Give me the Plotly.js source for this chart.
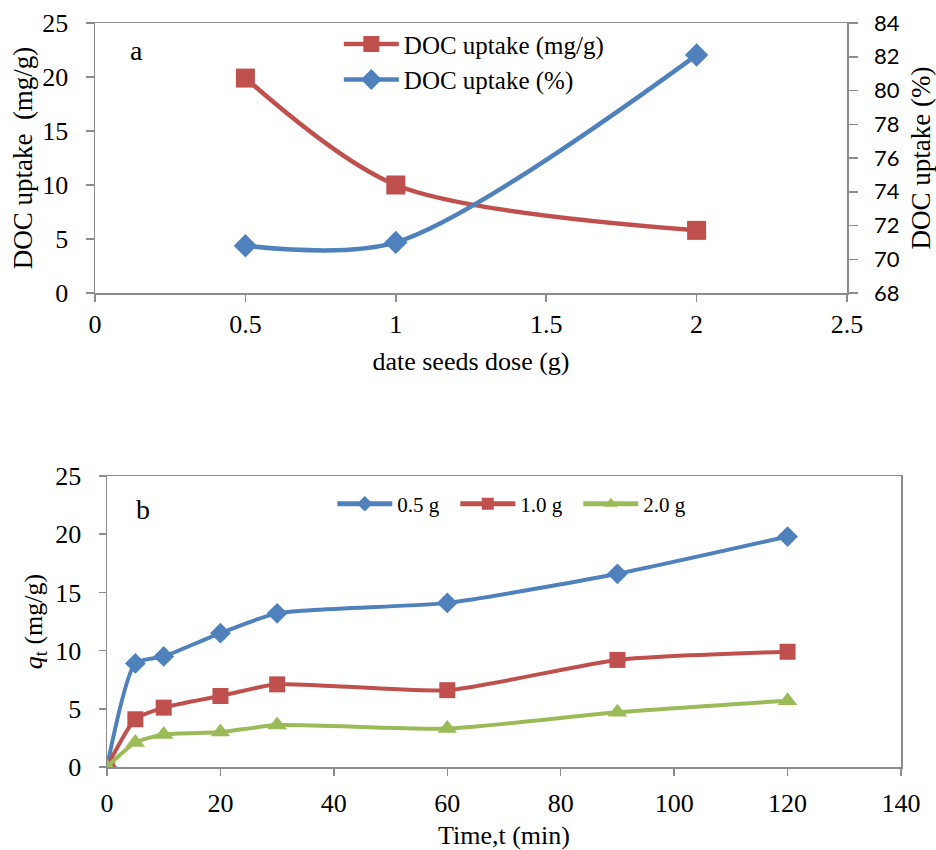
<!DOCTYPE html>
<html>
<head>
<meta charset="utf-8">
<script src="https://cdn.plot.ly/plotly-3.0.1.min.js"></script>
<style>html,body{margin:0;padding:0;background:#fff;}#chart{width:936px;height:850px;}</style>
</head>
<body>
<div id="chart"></div>
<script>
// Panel a
const doseG = [0.5, 1, 2];
const docMgG = [19.9, 10.0, 5.8];
const docPct = [70.8, 71.0, 82.1];
// Panel b
const timeMin = [0, 5, 10, 20, 30, 60, 90, 120];
const q05 = [0, 8.9, 9.5, 11.5, 13.2, 14.1, 16.6, 19.8];
const q10 = [0, 4.1, 5.1, 6.1, 7.1, 6.6, 9.2, 9.9];
const q20 = [0, 2.1, 2.8, 3.0, 3.6, 3.3, 4.7, 5.7];

const RED = '#C0504D', BLUE = '#4F81BD', GREEN = '#9BBB59', GRID = '#8C8C8C';
const SERIF = 'Liberation Serif';
const SANS = 'Lato';

const traces = [
  {x: doseG, y: docMgG, name: 'DOC uptake (mg/g)', type: 'scatter', mode: 'lines+markers',
   xaxis: 'x', yaxis: 'y', legend: 'legend',
   line: {color: RED, width: 4.5, shape: 'spline', smoothing: 0.85},
   marker: {symbol: 'square', size: 19, color: RED}},
  {x: doseG, y: docPct, name: 'DOC uptake (%)', type: 'scatter', mode: 'lines+markers',
   xaxis: 'x', yaxis: 'y2', legend: 'legend',
   line: {color: BLUE, width: 4.5, shape: 'spline', smoothing: 0.85},
   marker: {symbol: 'diamond', size: 18, color: BLUE}},
  {x: timeMin, y: q05, name: '0.5 g', type: 'scatter', mode: 'lines+markers',
   xaxis: 'x2', yaxis: 'y3', legend: 'legend2',
   line: {color: BLUE, width: 4, shape: 'spline', smoothing: 0.6},
   marker: {symbol: 'diamond', size: 16, color: BLUE}},
  {x: timeMin, y: q10, name: '1.0 g', type: 'scatter', mode: 'lines+markers',
   xaxis: 'x2', yaxis: 'y3', legend: 'legend2',
   line: {color: RED, width: 4, shape: 'spline', smoothing: 0.6},
   marker: {symbol: 'square', size: 16, color: RED}},
  {x: timeMin, y: q20, name: '2.0 g', type: 'scatter', mode: 'lines+markers',
   xaxis: 'x2', yaxis: 'y3', legend: 'legend2',
   line: {color: GREEN, width: 4, shape: 'spline', smoothing: 0.6},
   marker: {symbol: 'triangle-up', size: 17, color: GREEN}}
];

const axisCommon = {
  showgrid: false, zeroline: false, showline: true, linecolor: GRID, linewidth: 1.5,
  ticks: 'outside', ticklen: 7, tickcolor: GRID, tickwidth: 1.5,
  tickfont: {family: SERIF, size: 26, color: '#000'}
};

const layout = {
  width: 936, height: 850,
  margin: {l: 0, r: 0, t: 0, b: 0},
  paper_bgcolor: '#fff', plot_bgcolor: '#fff',
  font: {family: SERIF, color: '#000'},
  showlegend: true,
  xaxis: Object.assign({}, axisCommon, {
    domain: [95/936, 847/936], anchor: 'y', range: [0, 2.5], dtick: 0.5, mirror: true,
    ticklabelstandoff: 0,
    title: {text: 'date seeds dose (g)', font: {family: SERIF, size: 26, color: '#000'}, standoff: 14}
  }),
  yaxis: Object.assign({}, axisCommon, {
    domain: [1 - 293/850, 1 - 23/850], anchor: 'x', range: [0, 25], dtick: 5, ticklen: 8,
    ticklabelstandoff: 12,
    title: {text: 'DOC uptake  (mg/g)', font: {family: SERIF, size: 27, color: '#000'}, standoff: 2}
  }),
  yaxis2: Object.assign({}, axisCommon, {
    overlaying: 'y', side: 'right', anchor: 'x', range: [68, 84], dtick: 2, ticklen: 9,
    ticklabelstandoff: 12,
    tickfont: {family: SANS, size: 22, color: '#000'},
    title: {text: 'DOC uptake (%)', font: {family: SERIF, size: 27, color: '#000'}, standoff: 15}
  }),
  xaxis2: Object.assign({}, axisCommon, {
    domain: [107/936, 901/936], anchor: 'y3', range: [0, 140], dtick: 20, mirror: true,
    ticklabelstandoff: 5,
    title: {text: 'Time,t (min)', font: {family: SERIF, size: 26, color: '#000'}, standoff: 18}
  }),
  yaxis3: Object.assign({}, axisCommon, {
    domain: [1 - 767/850, 1 - 476/850], anchor: 'x2', range: [0, 25], dtick: 5, mirror: true,
    ticklabelstandoff: 12,
    title: {text: '<i>q</i><sub>t</sub> (mg/g)', font: {family: SERIF, size: 26, color: '#000'}, standoff: 5}
  }),
  legend: {
    x: 0.362, y: 0.975, xanchor: 'left', yanchor: 'top', orientation: 'v',
    bgcolor: 'rgba(0,0,0,0)', itemwidth: 55, tracegroupgap: 0,
    font: {family: SERIF, size: 25, color: '#000'}
  },
  legend2: {
    x: 0.355, y: 0.431, xanchor: 'left', yanchor: 'top', orientation: 'h',
    bgcolor: 'rgba(0,0,0,0)', itemwidth: 55, itemsizing: 'constant',
    entrywidth: 53, entrywidthmode: 'pixels',
    font: {family: SERIF, size: 21, color: '#000'}
  },
  annotations: [
    {text: 'a', xref: 'x domain', yref: 'y domain', x: (136 - 95) / 752, y: (293 - 50) / 270,
     xanchor: 'center', yanchor: 'middle',
     showarrow: false, font: {family: SERIF, size: 28, color: '#000'}},
    {text: 'b', xref: 'x2 domain', yref: 'y3 domain', x: (143 - 107) / 794, y: (767 - 509) / 291,
     xanchor: 'center', yanchor: 'middle',
     showarrow: false, font: {family: SERIF, size: 28, color: '#000'}}
  ]
};

Plotly.newPlot('chart', traces, layout, {displayModeBar: false, staticPlot: true});
</script>
</body>
</html>
